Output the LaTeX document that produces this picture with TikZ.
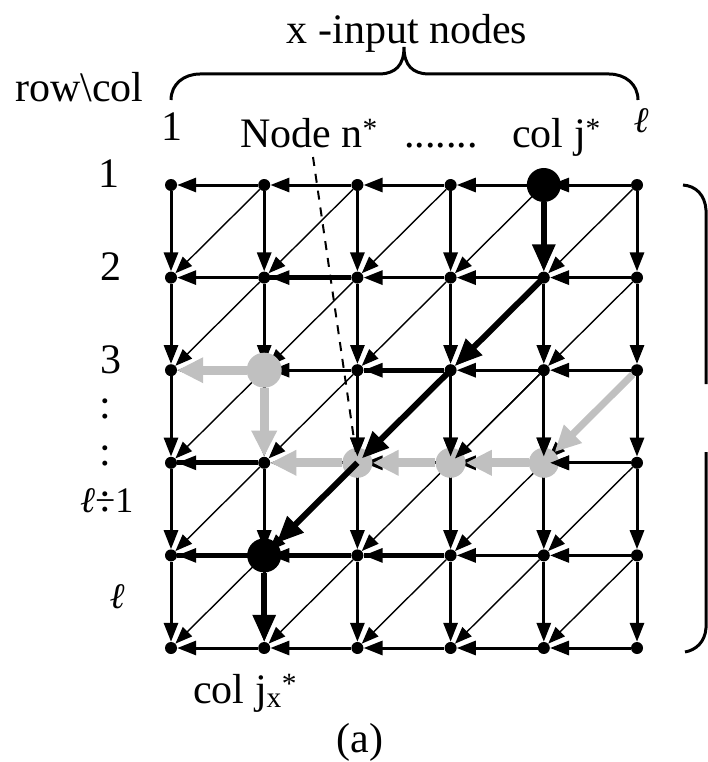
\documentclass[tikz,border=0pt]{standalone}
\usepackage{fontspec}
\setmainfont{Liberation Serif}
\usetikzlibrary{arrows.meta}
\definecolor{grayp}{HTML}{C0C0C0}
\tikzset{
  dotnode/.style={circle,fill=black,inner sep=0pt,minimum size=12pt},
  thinedge/.style={line width=3pt,-{Triangle[length=19pt,width=14pt]}},
  diagedge/.style={line width=1.4pt,-{Triangle[length=17pt,width=13pt]}},
  boldline/.style={line width=5pt},
  bigdot/.style={circle,fill=black,inner sep=0pt,minimum size=34pt},
  graydot/.style={circle,fill=grayp,inner sep=0pt,minimum size=30pt},
  grayarrow/.style={grayp,line width=9pt,-{Triangle[length=26pt,width=24pt]}},
  thickarrow/.style={line width=6pt,-{Triangle[length=27pt,width=22pt]}},
  leader/.style={line width=2pt,dash pattern=on 9pt off 8pt},
  brace/.style={line width=3pt},
  lab/.style={font=\fontsize{42}{48}\selectfont,inner sep=0pt},
  smlab/.style={font=\fontsize{36}{42}\selectfont,inner sep=0pt}
}
\begin{document}
\begin{tikzpicture}[x=1pt,y=-1pt]
\useasboundingbox[fill=white] (0,0) rectangle (708,762);

% grid nodes
\foreach \j in {1,...,6}{
  \foreach \i in {1,...,6}{
    \node[dotnode] (n-\j-\i) at ({171+93.2*(\j-1)},{185+92.6*(\i-1)}) {};
  }
}

% diagonals (down-left)
\foreach \j in {1,...,5}{
  \foreach \i in {1,...,5}{
    \pgfmathtruncatemacro\jb{\j+1}
    \pgfmathtruncatemacro\ia{\i+1}
    \draw[diagedge] (n-\jb-\i) -- (n-\j-\ia);
  }
}
% horizontals (right to left)
\foreach \i in {1,...,6}{
  \foreach \j in {1,...,5}{
    \pgfmathtruncatemacro\jb{\j+1}
    \draw[thinedge] (n-\jb-\i) -- (n-\j-\i);
  }
}
% verticals (downward)
\foreach \j in {1,...,6}{
  \foreach \i in {1,...,5}{
    \pgfmathtruncatemacro\ia{\i+1}
    \draw[thinedge] (n-\j-\i) -- (n-\j-\ia);
  }
}
% bolder horizontal segments
\draw[boldline] (n-3-2) -- (n-2-2);
\draw[boldline] (n-4-3) -- (n-3-3);
\draw[boldline] (n-2-4) -- (n-1-4);
\draw[boldline] (n-2-5) -- (n-1-5);
\draw[boldline] (n-3-5) -- (n-2-5);
\draw[boldline] (n-4-5) -- (n-3-5);

% gray path
\node[graydot,minimum size=35pt] (g-2-3) at (n-2-3) {};
\node[graydot] (g-5-4) at (n-5-4) {};
\node[graydot] (g-4-4) at (n-4-4) {};
\node[graydot] (g-3-4) at (n-3-4) {};
\draw[grayarrow] (g-2-3) -- (n-1-3);
\draw[grayarrow] (g-2-3) -- (n-2-4);
\draw[grayarrow,line width=7pt] (n-6-3) -- (g-5-4);
\draw[grayarrow] (g-5-4) -- (g-4-4);
\draw[grayarrow] (g-4-4) -- (g-3-4);
\draw[grayarrow] (g-3-4) -- (n-2-4);

% black edges seen above the gray
\draw[thinedge] (n-3-3) -- (n-3-4);
\draw[thinedge] (n-4-3) -- (n-4-4);
\draw[thinedge] (n-5-3) -- (n-5-4);
\draw[diagedge] (n-5-3) -- (n-4-4);
\draw[thinedge] (n-6-4) -- (n-5-4);

% bold black path
\node[bigdot] (b-5-1) at (n-5-1) {};
\node[bigdot] (b-2-5) at (n-2-5) {};
\draw[thickarrow] (b-5-1) -- (n-5-2);
\draw[thickarrow] (n-5-2.center) -- (n-4-3);
\draw[thickarrow] (n-4-3.center) -- (n-3-4);
\draw[thickarrow] (n-3-4.center) -- (b-2-5);
\draw[thickarrow] (b-2-5) -- (n-2-6);

% leader line from "Node n*"
\coordinate (dtop) at (313,157);
\draw[leader] (dtop) -- (n-3-4);

% top brace
\coordinate (tbl) at (171,100);
\coordinate (tbr) at (638,100);
\coordinate (tbt) at (404,47);
\draw[brace] (tbl) .. controls (171,84) and (184,74) .. (200,74) -- (381,74)
  .. controls (395,73) and (404,66) .. (tbt)
  .. controls (404,66) and (413,73) .. (427,74) -- (609,74)
  .. controls (625,74) and (638,84) .. (tbr);
% right brace (tip outside the frame)
\draw[brace] (683,185) .. controls (696,186) and (705,195) .. (706,210) -- (706,384);
\draw[brace] (706,452) -- (706,628) .. controls (705,642) and (696,650) .. (685,652);

% labels
\node[lab,anchor=base] (xin) at (407,44) {x -input nodes};
\node[lab,anchor=base west] (rc) at (15,102) {row\textbackslash col};
\node[lab,anchor=base] (c1) at (172,141) {1};
\node[smlab,anchor=base] (cl) at (641,133) {\itshape ℓ};
\node[lab,anchor=base west] (nn) at (240,148) {Node n\textsuperscript{*}};
\node[lab,anchor=base west] (dd) at (404,148) {.......};
\node[lab,anchor=base west] (cj) at (512,148) {col j\textsuperscript{*}};
\node[lab,anchor=base] (r1) at (109,187) {1};
\node[lab,anchor=base] (r2) at (111,280) {2};
\node[lab,anchor=base] (r3) at (111,373) {3};
\node[lab,anchor=base] (k1) at (105,418) {:};
\node[lab,anchor=base] (k2) at (105,465) {:};
\node[lab,anchor=base] (k3) at (105,511) {:};
\node[smlab,anchor=base west] (rl1) at (80,512) {{\itshape ℓ}−1};
\node[smlab,anchor=base] (rl) at (117,608) {\itshape ℓ};
\node[lab,anchor=base west] (cjx) at (193,703) {col j\textsubscript{x}\textsuperscript{*}};
\node[lab,anchor=base] (cap) at (360,752) {(a)};
\end{tikzpicture}
\end{document}
